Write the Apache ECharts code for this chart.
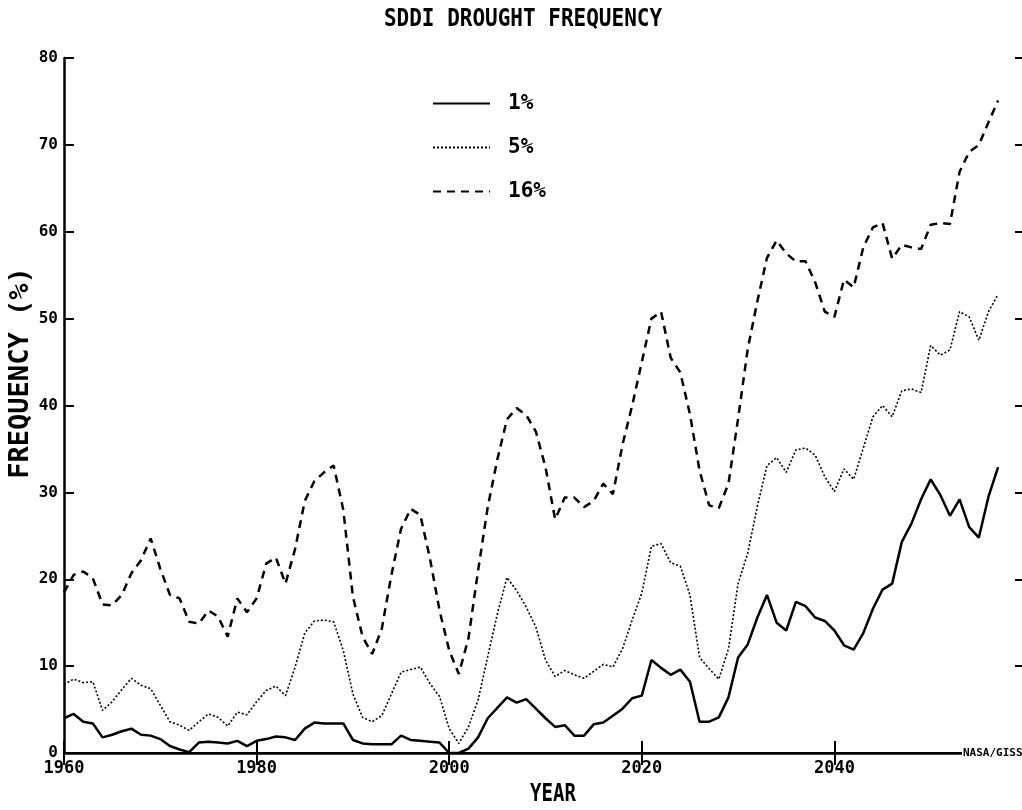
<!DOCTYPE html>
<html>
<head>
<meta charset="utf-8">
<title>SDDI Drought Frequency</title>
<script src="https://cdn.jsdelivr.net/npm/echarts@6/dist/echarts.min.js"></script>
<style>
  html, body { margin: 0; padding: 0; background: #fff; }
  #chart { width: 1022px; height: 810px; }
</style>
</head>
<body>
<div id="chart"></div>
<script>
// years 1960 .. 2057
var years = [];
for (var y = 1960; y <= 2057; y++) years.push(y);

var freq1 = [
  4.0, 4.5, 3.6, 3.4, 1.8, 2.1, 2.5, 2.8, 2.1, 2.0,
  1.6, 0.8, 0.4, 0.1, 1.2, 1.3, 1.2, 1.1, 1.4, 0.8,
  1.4, 1.6, 1.9, 1.8, 1.5, 2.8, 3.5, 3.4, 3.4, 3.4,
  1.5, 1.1, 1.0, 1.0, 1.0, 2.0, 1.5, 1.4, 1.3, 1.2,
  0.0, 0.0, 0.5, 1.8, 4.0, 5.2, 6.4, 5.8, 6.2, 5.1,
  4.0, 3.0, 3.2, 2.0, 2.0, 3.3, 3.5, 4.3, 5.1, 6.3,
  6.6, 10.7, 9.8, 9.0, 9.6, 8.2, 3.6, 3.6, 4.1, 6.4,
  11.0, 12.5, 15.6, 18.2, 15.0, 14.1, 17.4, 16.9, 15.6, 15.2,
  14.1, 12.4, 11.9, 13.8, 16.6, 18.8, 19.5, 24.3, 26.4, 29.2,
  31.5, 29.7, 27.3, 29.2, 26.0, 24.8, 29.5, 32.9
];

var freq5 = [
  7.9, 8.5, 8.1, 8.2, 4.9, 5.9, 7.3, 8.6, 7.8, 7.4,
  5.5, 3.6, 3.2, 2.6, 3.6, 4.5, 4.1, 3.1, 4.7, 4.4,
  5.9, 7.2, 7.7, 6.6, 9.9, 13.8, 15.2, 15.3, 15.1, 11.8,
  6.8, 4.1, 3.6, 4.3, 6.8, 9.3, 9.6, 9.9, 8.0, 6.5,
  2.8, 1.1, 3.0, 6.1, 11.1, 16.0, 20.2, 18.7, 16.8, 14.5,
  10.7, 8.8, 9.5, 9.0, 8.6, 9.4, 10.2, 9.9, 12.0, 15.3,
  18.4, 23.8, 24.1, 21.9, 21.5, 18.2, 11.0, 9.7, 8.5, 12.0,
  19.5, 23.0, 28.4, 33.1, 34.0, 32.3, 34.9, 35.1, 34.3, 31.8,
  30.1, 32.7, 31.5, 35.1, 38.7, 40.0, 38.7, 41.7, 41.9, 41.5,
  46.9, 45.8, 46.4, 50.8, 50.2, 47.5, 50.8, 52.8
];

var freq16 = [
  18.5, 20.5, 20.9, 20.1, 17.1, 17.0, 18.2, 20.7, 22.2, 24.7,
  21.2, 18.2, 17.8, 15.1, 14.9, 16.4, 15.7, 13.4, 17.8, 16.2,
  17.8, 21.8, 22.5, 19.5, 23.5, 29.0, 31.3, 32.3, 33.1, 28.0,
  18.0, 13.4, 11.4, 14.3, 20.5, 25.8, 28.1, 27.4, 22.4, 16.4,
  11.8, 9.1, 13.2, 21.0, 28.3, 33.8, 38.4, 39.7, 38.9, 37.0,
  32.9, 26.9, 29.4, 29.4, 28.3, 29.0, 31.0, 29.8, 35.5, 40.0,
  45.0, 50.0, 50.8, 45.5, 43.8, 39.0, 32.5, 28.5, 28.2, 31.0,
  38.5, 46.5, 52.0, 57.0, 59.0, 57.5, 56.6, 56.6, 54.2, 50.8,
  50.2, 54.5, 53.6, 58.2, 60.5, 61.0, 56.9, 58.5, 58.2, 58.0,
  60.8, 61.0, 60.9, 66.9, 69.2, 70.0, 72.6, 75.1
];

var seriesNames = ['1%', '5%', '16%'];

function pairs(vals) {
  return years.map(function (yr, i) { return [yr, vals[i]]; });
}

var FONT = 'DejaVu Sans Mono';

var chart = echarts.init(document.getElementById('chart'));

var option = {
  backgroundColor: '#fff',
  animation: false,
  grid: { left: 64, top: 58, right: -5, bottom: 57, containLabel: false, outerBoundsMode: 'none' },
  legend: {
    orient: 'vertical',
    left: 427,
    top: 88,
    itemWidth: 57,
    itemHeight: 20,
    itemGap: 23,
    data: seriesNames,
    itemStyle: { opacity: 0 },
    textStyle: { color: '#000', fontFamily: FONT, fontWeight: 'bold', fontSize: 21, padding: [0, 0, 0, 13] }
  },
  graphic: [
    {
      type: 'text', x: 523, y: 19, scaleY: 1.2,
      style: { text: 'SDDI DROUGHT FREQUENCY', font: 'bold 21px "DejaVu Sans Mono"', fill: '#000',
        textAlign: 'center', textVerticalAlign: 'middle' }
    },
    {
      type: 'text', x: 553, y: 795, scaleY: 1.3,
      style: { text: 'YEAR', font: 'bold 19px "DejaVu Sans Mono"', fill: '#000',
        textAlign: 'center', textVerticalAlign: 'middle' }
    },
    {
      type: 'text', x: 21, y: 373, rotation: Math.PI / 2,
      style: { text: 'FREQUENCY (%)', font: 'bold 27px "DejaVu Sans Mono"', fill: '#000',
        textAlign: 'center', textVerticalAlign: 'middle' }
    },
    {
      type: 'text', x: 962, y: 753, z: 100,
      style: { text: 'NASA/GISS', font: 'bold 11px "DejaVu Sans Mono"', fill: '#000',
        textAlign: 'left', textVerticalAlign: 'middle', backgroundColor: '#fff', padding: [2, 0, 2, 1] }
    }
  ],
  xAxis: [
    {
      type: 'value', position: 'bottom', min: 1960, max: 2060, interval: 20,
      axisLine: { lineStyle: { color: '#000', width: 2.5 } },
      axisTick: { inside: true, length: 12, lineStyle: { color: '#000', width: 2 } },
      splitLine: { show: false },
      axisLabel: {
        color: '#000', fontFamily: FONT, fontWeight: 'bold', fontSize: 17, margin: 7,
        formatter: function (v) { return v >= 2060 ? '' : String(v); }
      }
    },
    {
      type: 'value', position: 'top', min: 1960, max: 2060, interval: 20,
      axisLine: { show: true, lineStyle: { color: '#000', width: 2 } },
      axisTick: { inside: true, length: 12, lineStyle: { color: '#000', width: 2 } },
      splitLine: { show: false },
      axisLabel: { show: false }
    }
  ],
  yAxis: [
    {
      type: 'value', position: 'left', min: 0, max: 80, interval: 10,
      axisLine: { show: true, lineStyle: { color: '#000', width: 2.5 } },
      axisTick: { show: true, inside: true, length: 10, lineStyle: { color: '#000', width: 2 } },
      splitLine: { show: false },
      axisLabel: { color: '#000', fontFamily: FONT, fontWeight: 'bold', fontSize: 16, margin: 6 }
    },
    {
      type: 'value', position: 'right', min: 0, max: 80, interval: 10,
      axisLine: { show: true, lineStyle: { color: '#000', width: 2 } },
      axisTick: { show: true, inside: true, length: 12, lineStyle: { color: '#000', width: 2 } },
      splitLine: { show: false },
      axisLabel: { show: false }
    }
  ],
  series: [
    {
      name: '1%', type: 'line', symbol: 'none', data: pairs(freq1),
      lineStyle: { color: '#000', width: 2.5, type: 'solid' }, itemStyle: { color: '#000' }
    },
    {
      name: '5%', type: 'line', symbol: 'none', data: pairs(freq5),
      lineStyle: { color: '#000', width: 1.6, type: [2, 2] }, itemStyle: { color: '#000' }
    },
    {
      name: '16%', type: 'line', symbol: 'none', data: pairs(freq16),
      lineStyle: { color: '#000', width: 2.5, type: [8, 6] }, itemStyle: { color: '#000' }
    }
  ]
};

chart.setOption(option);
</script>
</body>
</html>
